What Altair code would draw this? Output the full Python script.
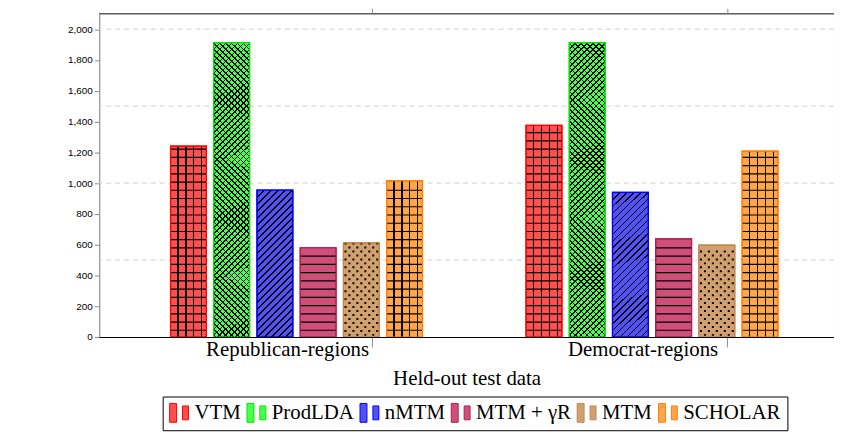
import altair as alt
import pandas as pd

# ---------------- data ----------------
groups = ["Republican-regions", "Democrat-regions"]
models = ["VTM", "ProdLDA", "nMTM", "MTM + γR", "MTM", "SCHOLAR"]
republican_values = [1240, 1912, 955, 580, 612, 1015]
democrat_values = [1375, 1912, 940, 638, 597, 1208]
fill_colors = ["#ff5050", "#4dff4d", "#5252f2", "#cf4f7a", "#d0a070", "#ffa64d"]
stroke_colors = ["#ff0000", "#00e600", "#0000ff", "#b02050", "#c08850", "#ff8000"]
y_ticks = [0, 500, 1000, 1500, 2000]
grid_values = [500, 1000, 1500, 2000]

rows = []
for g, vals in zip(groups, [republican_values, democrat_values]):
    for m, v in zip(models, vals):
        rows.append({"group": g, "model": m, "value": v})
df = pd.DataFrame(rows)
grid_df = pd.DataFrame({"tick": grid_values})
group_df = pd.DataFrame({"group": groups})

# ---------------- layout / style ----------------
FONT = "Liberation Serif"
W, H = 741, 326
Y_MAX = 2100
BAR_W = 36.0
PX_PER_UNIT = H / Y_MAX
CLEAR = "rgba(0,0,0,0)"
BAND_POS = 0.757

x_scale = alt.Scale(domain=groups, paddingInner=0.1697, paddingOuter=0.1183, align=0.591)
xo_scale = alt.Scale(domain=models, paddingInner=0.17, paddingOuter=0.5)
y_scale = alt.Scale(domain=[0, Y_MAX], nice=False)


def X(axis=None):
    return alt.X("group:N", scale=x_scale, sort=groups, axis=axis)


def XO():
    return alt.XOffset("model:N", scale=xo_scale, sort=models)


def Y(field="value", axis=None):
    return alt.Y(f"{field}:Q", scale=y_scale, axis=axis)


def line_stops(positions, width):
    stops = [alt.GradientStop(offset=0, color=CLEAR)]
    for a in positions:
        b = min(a + width, 1.0)
        if a >= 1:
            break
        stops += [
            alt.GradientStop(offset=a, color=CLEAR),
            alt.GradientStop(offset=a, color="black"),
            alt.GradientStop(offset=b, color="black"),
            alt.GradientStop(offset=b, color=CLEAR),
        ]
    stops.append(alt.GradientStop(offset=1, color=CLEAR))
    return stops


def diag_gradient(bar_h, period_px, frac, direction):
    r = BAR_W / bar_h
    k = 1.25
    p = period_px / (bar_h * k * (1 + r * r))
    positions = [i * p for i in range(int(1 / p) + 1)]
    stops = line_stops(positions, p * frac)
    if direction == "ne":
        return alt.LinearGradient(gradient="linear", stops=stops, x1=0, y1=0, x2=k * r, y2=k)
    return alt.LinearGradient(gradient="linear", stops=stops, x1=1, y1=0, x2=1 - k * r, y2=k)


base = alt.Chart(df)

legend = alt.Legend(
    title=None,
    orient="none",
    legendX=64,
    legendY=386,
    direction="horizontal",
    columns=6,
    strokeColor="black",
    fillColor="white",
    padding=6,
    cornerRadius=0,
    labelFont=FONT,
    labelFontSize=21,
    labelColor="black",
    labelOffset=5,
    columnPadding=4,
    symbolType="M-0.95,-0.95H-0.25V0.95H-0.95Z M0.35,-0.7H0.95V0.7H0.35Z",
    symbolSize=400,
    symbolStrokeWidth=1,
    symbolOpacity=1,
)

y_axis = alt.Axis(
    title="Perplexity",
    values=y_ticks,
    grid=False,
    ticks=False,
    domainColor="#777777",
    labelPadding=8,
    titlePadding=12,
    labelFont=FONT,
    titleFont=FONT,
    labelFontSize=21,
    titleFontSize=21,
    titleFontWeight="normal",
    labelColor="black",
    titleColor="black",
)

x_axis_bottom = alt.Axis(
    title="Held-out test data",
    bandPosition=BAND_POS,
    labelOffset=-9,
    labelAngle=0,
    tickSize=10,
    tickColor="#8a8a8a",
    domainColor="black",
    domainWidth=1.2,
    labelPadding=-8,
    titlePadding=8,
    labelFont=FONT,
    titleFont=FONT,
    labelFontSize=21,
    titleFontSize=21,
    titleFontWeight="normal",
    labelColor="black",
    titleColor="black",
    zindex=1,
)

# dashed horizontal grid lines
grid = (
    alt.Chart(grid_df)
    .mark_rule(color="#cfcfcf", strokeDash=[5, 4], strokeWidth=1)
    .encode(y=alt.Y("tick:Q", scale=y_scale, axis=None))
)

# top frame line and its ticks
top_line = alt.Chart(group_df).mark_rule(color="#555555", strokeWidth=1).encode(
    y=alt.datum(Y_MAX, scale=y_scale)
)
top_ticks = alt.Chart(group_df).mark_rule(color="#8a8a8a", strokeWidth=1).encode(
    x=alt.X("group:N", scale=x_scale, sort=groups, bandPosition=BAND_POS, axis=None),
    y=alt.value(-5),
    y2=alt.value(0),
)

# base coloured bars (with legend) - carries both axes
bars = base.mark_bar(strokeWidth=1.2).encode(
    x=X(x_axis_bottom),
    xOffset=XO(),
    y=Y("value", y_axis),
    fill=alt.Fill("model:N", scale=alt.Scale(domain=models, range=fill_colors), sort=models, legend=legend),
    stroke=alt.Stroke("model:N", scale=alt.Scale(domain=models, range=stroke_colors), sort=models, legend=legend),
)

# horizontal lines (grid / horizontal lines patterns)
hlines = (
    base.transform_filter(alt.FieldOneOfPredicate(field="model", oneOf=["VTM", "SCHOLAR", "MTM + γR"]))
    .transform_calculate(level="sequence(40, datum.value - 20, 53.5)")
    .transform_flatten(["level"])
    .transform_calculate(level2="datum.level + 7.5")
    .mark_bar(color="black")
    .encode(x=X(), xOffset=XO(), y=Y("level"), y2="level2:Q")
)

# vertical lines for grid pattern
vgrad = alt.LinearGradient(
    gradient="linear", stops=line_stops([0.19, 0.41, 0.63, 0.85], 0.035), x1=0, y1=0, x2=1, y2=0
)
vlines = (
    base.transform_filter(alt.FieldOneOfPredicate(field="model", oneOf=["VTM", "SCHOLAR"]))
    .mark_bar(fill=vgrad)
    .encode(x=X(), xOffset=XO(), y=Y())
)

# crosshatch for ProdLDA
prod_h = republican_values[1] * PX_PER_UNIT
cross_layers = []
for d in ["ne", "nw"]:
    cross_layers.append(
        base.transform_filter(alt.datum.model == "ProdLDA")
        .mark_bar(fill=diag_gradient(prod_h, 6.0, 0.26, d))
        .encode(x=X(), xOffset=XO(), y=Y())
    )

# north east lines for nMTM
nmtm_h = (republican_values[2] + democrat_values[2]) / 2 * PX_PER_UNIT
ne_layer = (
    base.transform_filter(alt.datum.model == "nMTM")
    .mark_bar(fill=diag_gradient(nmtm_h, 7.0, 0.2, "ne"))
    .encode(x=X(), xOffset=XO(), y=Y())
)

# dots for MTM
dot_path = (
    "M-13,-1h2v2h-2Z M-5,-1h2v2h-2Z M3,-1h2v2h-2Z M11,-1h2v2h-2Z "
    "M-17,-5h2v2h-2Z M-9,-5h2v2h-2Z M-1,-5h2v2h-2Z M7,-5h2v2h-2Z M15,-5h2v2h-2Z"
)
dots = (
    base.transform_filter(alt.datum.model == "MTM")
    .transform_calculate(level="sequence(14, datum.value - 30, 51.6)")
    .transform_flatten(["level"])
    .mark_point(shape=dot_path, size=4, filled=True, color="black", opacity=1, strokeWidth=0)
    .encode(x=X(), xOffset=XO(), y=Y("level"))
)

# bar outlines on top
outlines = base.mark_bar(fillOpacity=0, strokeWidth=1.2).encode(
    x=X(),
    xOffset=XO(),
    y=Y(),
    stroke=alt.Stroke("model:N", scale=alt.Scale(domain=models, range=stroke_colors), sort=models, legend=None),
)

chart = (
    alt.layer(grid, top_line, top_ticks, bars, hlines, vlines, *cross_layers, ne_layer, dots, outlines)
    .resolve_axis(x="independent", y="independent")
    .properties(
        width=W,
        height=H,
        autosize=alt.AutoSizeParams(type="none"),
        padding={"left": 92, "top": 4, "right": 0, "bottom": 98},
    )
    .configure_view(stroke=None)
    .configure(background="white")
)

chart.save("out.html", embed_options={"renderer": "svg", "actions": False})
